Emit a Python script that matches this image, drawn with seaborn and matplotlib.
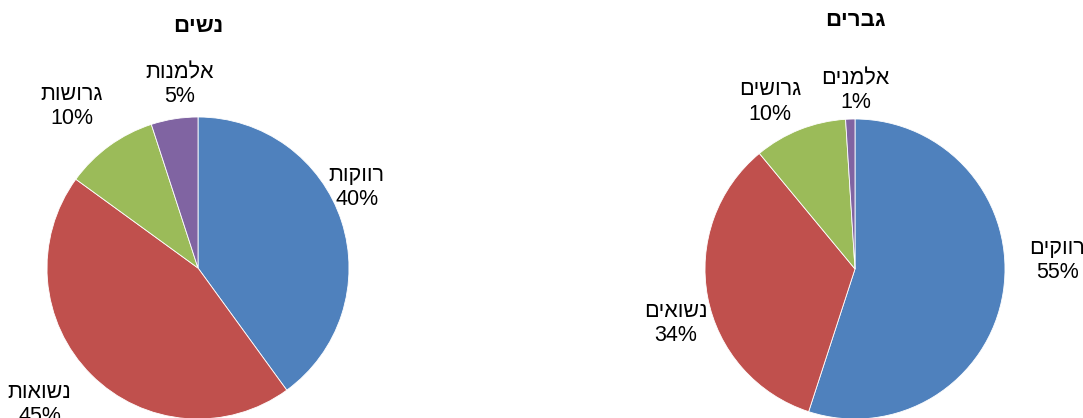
import numpy as np
import seaborn as sns
from matplotlib import pyplot as plt

# marital status split, women / men (Hebrew in logical order)
women_title = "נשים"
women_labels = ["רווקות", "נשואות", "גרושות", "אלמנות"]
women_values = [40, 45, 10, 5]

men_title = "גברים"
men_labels = ["רווקים", "נשואים", "גרושים", "אלמנים"]
men_values = [55, 34, 10, 1]

colors = ["#4F81BD", "#C0504D", "#9BBB59", "#8064A2"]

sns.set_theme(style="white")
plt.rcParams["font.family"] = ["Liberation Sans", "DejaVu Sans"]

W, H = 1083, 418
fig = plt.figure(figsize=(W / 100, H / 100), dpi=100)
ax = fig.add_axes([0, 0, 1, 1])


def rtl(s):
    # matplotlib has no bidi support, so flip Hebrew for display
    return s[::-1]


def draw_pie(values, labels, title, center, radius, shifts, dists, title_y):
    wedges, _ = ax.pie(values, colors=sns.color_palette(colors), startangle=90,
                       counterclock=False, center=center, radius=radius,
                       wedgeprops=dict(edgecolor="white", linewidth=0.6))
    for w, lab, v, sh, d in zip(wedges, labels, values, shifts, dists):
        ang = np.deg2rad((w.theta1 + w.theta2) / 2 + sh)
        x = center[0] + d * radius * np.cos(ang)
        y = center[1] + d * radius * np.sin(ang)
        ax.text(x, y, f"{rtl(lab)}\n{v}%", ha="center", va="center",
                multialignment="center", fontsize=15.5, color="black",
                linespacing=1.2)
    ax.text(center[0], title_y, rtl(title), ha="center", va="center",
            fontsize=16, fontweight="bold", color="black")


draw_pie(women_values, women_labels, women_title, (198, H - 268), 151,
         [9, -4.2, 2, -3.4], [1.18, 1.385, 1.36, 1.22], H - 27)
draw_pie(men_values, men_labels, men_title, (855, H - 269), 150,
         [11.5, 6, 5.4, -2], [1.35, 1.25, 1.25, 1.19], H - 20)

ax.set_xlim(0, W)
ax.set_ylim(0, H)
ax.set_aspect("auto")
ax.axis("off")

plt.savefig("out.png", dpi=100)
